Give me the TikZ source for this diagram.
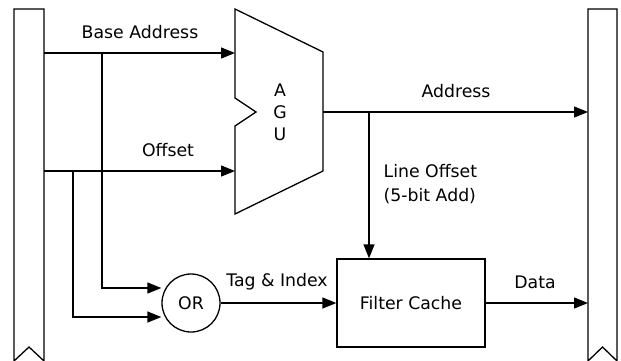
\documentclass[tikz,border=0pt]{standalone}
\usepackage{fontspec}
\setmainfont{DejaVu Sans}
\usetikzlibrary{arrows.meta}
\begin{document}
\begin{tikzpicture}[x=1pt,y=-1pt,line width=1.3pt,
  >={Triangle[length=14pt,width=11pt]},
  lbl/.style={font=\fontsize{17.3}{24}\selectfont, inner sep=0pt},
  box/.style={draw, font=\fontsize{17.3}{24}\selectfont, inner sep=0pt}]
\useasboundingbox (0,0) rectangle (621,360);
% pipeline registers
\draw (14,361) -- (14,9) -- (44,9) -- (44,361) -- (29,347) -- cycle;
\draw (588,361) -- (588,9) -- (617,9) -- (617,361) -- (602.5,347) -- cycle;
% AGU
\draw (235,9) -- (323,52) -- (323,171) -- (235,214) -- (235,126) -- (256,112) -- (235,98) -- cycle;
\node[lbl, align=center, font=\fontsize{17.3}{22}\selectfont] (agu) at (280,112) {A\\G\\U};
% coordinates
\coordinate (r1) at (44,53);
\coordinate (r2) at (44,171);
\coordinate (a1) at (235,53);
\coordinate (a2) at (235,171);
\coordinate (aout) at (323,112);
\coordinate (rr) at (588,112);
\coordinate (j1) at (102,53);
\coordinate (j2) at (73,171);
\coordinate (j3) at (369,112);
% nodes
\node[box, circle, minimum size=58pt] (or) at (191,303) {OR};
\node[box, minimum width=148pt, minimum height=88pt] (fc) at (411,303) {Filter Cache};
\coordinate (rd) at (588,303);
% connectors
\draw[->] (r1) -- (a1);
\draw[->] (r2) -- (a2);
\draw[->] (aout) -- (rr);
\draw[->] (j1) |- (or.west |- 0,288);
\draw[->] (j2) |- (or.west |- 0,317);
\draw[->] (j3) -- (j3 |- fc.north);
\draw[->] (or.east) -- (fc.west);
\draw[->] (fc.east) -- (rd);
% labels
\node[lbl] at (140,32) {Base Address};
\node[lbl] at (168,150) {Offset};
\node[lbl] at (456,91) {Address};
\node[lbl] at (277,282) {Tag \& Index};
\node[lbl] at (535,282) {Data};
\node[lbl, align=left, anchor=west] at (383,184) {Line Offset\\(5-bit Add)};
\end{tikzpicture}
\end{document}
